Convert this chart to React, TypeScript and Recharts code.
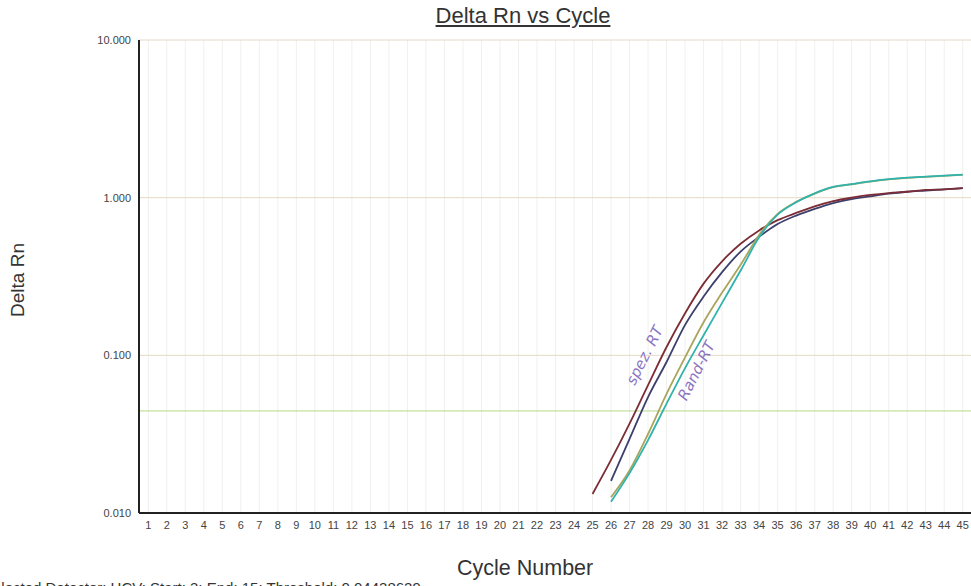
import { CartesianGrid, Line, LineChart, ReferenceDot, ReferenceLine, XAxis, YAxis } from "recharts";

const cycles = [25, 26, 27, 28, 29, 30, 31, 32, 33, 34, 35, 36, 37, 38, 39, 40, 41, 42, 43, 44, 45]

const spezA = [0.0132, 0.0217, 0.0369, 0.0648, 0.113, 0.185, 0.285, 0.395, 0.51, 0.62, 0.72, 0.8, 0.88, 0.95, 1.0, 1.04, 1.07, 1.09, 1.12, 1.13, 1.15]
const spezB = [null, 0.016, 0.0295, 0.0544, 0.0907, 0.156, 0.236, 0.337, 0.455, 0.565, 0.68, 0.77, 0.85, 0.925, 0.98, 1.02, 1.06, 1.09, 1.11, 1.13, 1.15]
const randA = [null, 0.0126, 0.0186, 0.0317, 0.057, 0.097, 0.162, 0.25, 0.375, 0.58, 0.79, 0.94, 1.062, 1.165, 1.215, 1.265, 1.305, 1.335, 1.355, 1.375, 1.395]
const randB = [null, 0.0118, 0.0179, 0.029, 0.0494, 0.083, 0.134, 0.215, 0.345, 0.56, 0.78, 0.935, 1.065, 1.17, 1.22, 1.27, 1.31, 1.34, 1.36, 1.38, 1.4]

const xTicks = Array.from({ length: 45 }, (_, i) => i + 1)
const yTicks = [0.01, 0.1, 1, 10]
const threshold = 0.04438629

const data = cycles.map((cycle, i) => ({
    cycle,
    spezA: spezA[i],
    spezB: spezB[i],
    randA: randA[i],
    randB: randB[i],
}))

const handStyle = { fill: "#8d74c0", fontSize: 15, fontStyle: "italic", fontFamily: "DejaVu Sans" }

export default function App() {
    return (
        <div style={{ position: "absolute", left: 0, top: 0, width: 971, height: 586, background: "#fff", fontFamily: "Arial, 'Liberation Sans', sans-serif", overflow: "hidden" }}>
            <div style={{ position: "absolute", left: 0, width: 1046, top: 3, textAlign: "center", fontSize: 22, color: "#333", textDecoration: "underline" }}>
                Delta Rn vs Cycle
            </div>
            <div style={{ position: "absolute", left: 18, top: 280, transform: "translate(-50%, -50%) rotate(-90deg)", fontSize: 19, color: "#333", whiteSpace: "nowrap" }}>
                Delta Rn
            </div>
            <div style={{ position: "absolute", left: 457, top: 556, fontSize: 21.5, color: "#333" }}>
                Cycle Number
            </div>
            <div style={{ position: "absolute", left: -17, top: 579, fontSize: 15, color: "#333", whiteSpace: "nowrap" }}>
                Selected Detector: HCV; Start: 3; End: 15; Threshold: 0.04438629
            </div>
            <LineChart
                width={971}
                height={586}
                data={data}
                margin={{ top: 40, right: -1, left: 79, bottom: 0 }}
                style={{ position: "absolute", left: 0, top: 0 }}
            >
                <CartesianGrid stroke="#f0f0ec" horizontal={false} />
                <CartesianGrid stroke="#e4d9c6" vertical={false} />
                <XAxis
                    type="number"
                    dataKey="cycle"
                    domain={[0.5, 45.5]}
                    ticks={xTicks}
                    interval={0}
                    allowDataOverflow
                    tickLine={false}
                    axisLine={{ stroke: "#222", strokeWidth: 2 }}
                    tick={{ fill: "#444", fontSize: 11 }}
                    height={73}
                />
                <YAxis
                    type="number"
                    scale="log"
                    domain={[0.01, 10]}
                    ticks={yTicks}
                    allowDataOverflow
                    tickLine={false}
                    axisLine={{ stroke: "#222", strokeWidth: 2 }}
                    tick={{ fill: "#444", fontSize: 11 }}
                    tickFormatter={(v: number) => v.toFixed(3)}
                    width={60}
                />
                <ReferenceLine y={threshold} stroke="#b5d98a" strokeWidth={1} />
                <Line dataKey="spezB" stroke="#3d3f6c" strokeWidth={1.8} dot={false} type="monotone" isAnimationActive={false} />
                <Line dataKey="spezA" stroke="#7c2c36" strokeWidth={1.8} dot={false} type="monotone" isAnimationActive={false} />
                <Line dataKey="randA" stroke="#a9a55c" strokeWidth={1.8} dot={false} type="monotone" isAnimationActive={false} />
                <Line dataKey="randB" stroke="#2fb3ac" strokeWidth={1.8} dot={false} type="monotone" isAnimationActive={false} />
                <ReferenceDot x={27.8} y={0.1} r={0} label={{ value: "spez. RT", angle: -63, ...handStyle }} />
                <ReferenceDot x={30.6} y={0.08} r={0} label={{ value: "Rand-RT", angle: -63, ...handStyle }} />
            </LineChart>
        </div>
    )
}
